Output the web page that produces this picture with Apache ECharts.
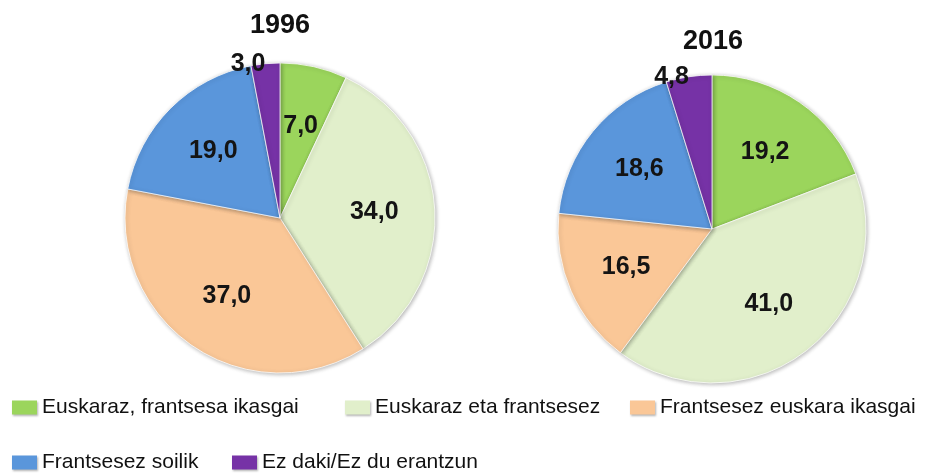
<!DOCTYPE html>
<html>
<head>
<meta charset="utf-8">
<script src="https://cdn.jsdelivr.net/npm/echarts@6/dist/echarts.min.js"></script>
<style>
    html, body { margin: 0; padding: 0; background: #fff; }
    #main { width: 934px; height: 473px; }
</style>
</head>
<body>
<div id="main"></div>
<script>
var categories = ['Euskaraz, frantsesa ikasgai', 'Euskaraz eta frantsesez', 'Frantsesez euskara ikasgai', 'Frantsesez soilik', 'Ez daki/Ez du erantzun'];
var years = ['1996', '2016'];
var values1996 = [7.0, 34.0, 37.0, 19.0, 3.0];
var values2016 = [19.2, 41.0, 16.5, 18.6, 4.8];
var colors = ['#9BD55C', '#E1EFCB', '#FAC797', '#5A96DB', '#7632A6'];

var fontName = '"Liberation Sans", Arial, sans-serif';
var outsideIndex = 4; // the small slice gets its label on the rim

function fmt(v) {
    return v.toFixed(1).replace('.', ',');
}

function labelStyle() {
    return {
        fontFamily: fontName,
        fontSize: 25,
        fontWeight: 'bold',
        color: '#141414'
    };
}

function makePie(values, center, radius) {
    const data = values.map((v, i) => ({ name: categories[i], value: v }));
    // the visible pie, with only the rim label
    const main = {
        type: 'pie',
        center: center,
        radius: radius,
        startAngle: 90,
        silent: true,
        avoidLabelOverlap: false,
        data: data,
        itemStyle: {
            borderColor: 'rgba(255,255,255,0.75)',
            borderWidth: 1,
            shadowBlur: 4,
            shadowOffsetX: 1,
            shadowOffsetY: 1,
            shadowColor: 'rgba(0,0,0,0.3)'
        },
        label: Object.assign({
            show: true,
            position: 'outside',
            distanceToLabelLine: 0,
            formatter: (p) => p.dataIndex === outsideIndex ? fmt(p.value) : ''
        }, labelStyle()),
        labelLine: { show: false, length: 0, length2: 0 }
    };
    // transparent copy with a hole, so inside labels sit further out
    const labels = {
        type: 'pie',
        center: center,
        radius: [radius * 0.18, radius],
        startAngle: 90,
        silent: true,
        data: data,
        itemStyle: { color: 'rgba(0,0,0,0)', borderWidth: 0 },
        label: Object.assign({
            show: true,
            position: 'inside',
            formatter: (p) => p.dataIndex === outsideIndex ? '' : fmt(p.value)
        }, labelStyle()),
        labelLine: { show: false }
    };
    return [main, labels];
}

var legendSpots = [[12, 397], [345, 397], [630, 397], [12, 452], [232, 452]];

var myChart = echarts.init(document.getElementById('main'), null, { renderer: 'canvas' });

var option = {
    animation: false,
    color: colors,
    title: [
        { text: years[0], left: 280, top: 12 },
        { text: years[1], left: 713, top: 28 }
    ].map((t) => Object.assign(t, {
        textAlign: 'center',
        padding: 0,
        textStyle: { fontFamily: fontName, fontSize: 27, fontWeight: 'bold', color: '#111' }
    })),
    legend: categories.map((name, i) => ({
        data: [name],
        left: legendSpots[i][0],
        top: legendSpots[i][1],
        padding: 0,
        icon: 'rect',
        itemWidth: 25,
        itemHeight: 14,
        selectedMode: false,
        itemStyle: { borderWidth: 0, shadowBlur: 2, shadowOffsetX: 1, shadowOffsetY: 1, shadowColor: 'rgba(0,0,0,0.3)' },
        textStyle: { fontFamily: fontName, fontSize: 21, color: '#111' }
    })),
    series: makePie(values1996, [280, 218], 155).concat(makePie(values2016, [712, 229], 154))
};

myChart.setOption(option);
</script>
</body>
</html>
